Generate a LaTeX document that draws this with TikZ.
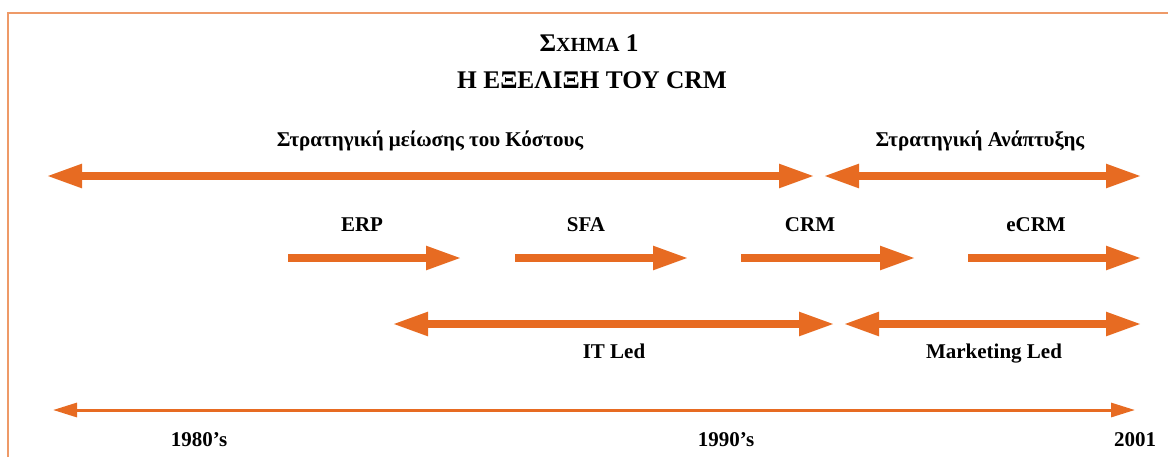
\documentclass[tikz,border=0pt]{standalone}
\usepackage{fontspec}
\setmainfont{Liberation Serif}
\usetikzlibrary{arrows.meta}
\definecolor{crmorange}{HTML}{E76B22}
\definecolor{framepeach}{HTML}{EE9A68}

\begin{document}
\begin{tikzpicture}[
  x=0.5pt,y=-0.5pt,
  font=\fontsize{10.5}{12}\selectfont\bfseries,
  txt/.style={inner sep=0pt,anchor=base},
  heading/.style={txt,font=\fontsize{12.7}{14}\selectfont\bfseries},
  fat/.style={line width=4pt,draw=crmorange,-{Triangle[length=18pt,width=11pt]}},
  fatboth/.style={fat,{Triangle[length=18pt,width=11pt]}-{Triangle[length=18pt,width=11pt]}},
  timeline/.style={line width=1.5pt,draw=crmorange,{Triangle[length=12pt,width=7pt]}-{Triangle[length=12pt,width=7pt]}}
]
\useasboundingbox (0,0) rectangle (1168,457);
\draw[framepeach,line width=0.8pt] (8,457) -- (8,13) -- (1168,13);

% title
\node[heading] (fig)   at (589,51) {Σ{\fontsize{10}{12}\selectfont ΧΗΜΑ} 1};
\node[heading] (title) at (592,88) {Η ΕΞΕΛΙΞΗ ΤΟΥ CRM};

% strategies
\node[txt] (cost)   at (430,146) {Στρατηγική μείωσης του Κόστους};
\node[txt] (growth) at (980,146) {Στρατηγική Ανάπτυξης};
\coordinate (cost-l) at (46,176);    \coordinate (cost-r) at (815,176);
\coordinate (growth-l) at (823,176); \coordinate (growth-r) at (1142,176);
\draw[fatboth] (cost-l) -- (cost-r);
\draw[fatboth] (growth-l) -- (growth-r);

% systems
\node[txt] (erp)  at (362,231)  {ERP};
\node[txt] (sfa)  at (586,231)  {SFA};
\node[txt] (crm)  at (810,231)  {CRM};
\node[txt] (ecrm) at (1036,231) {eCRM};
\coordinate (erp-l) at (288,258);  \coordinate (erp-r) at (462,258);
\coordinate (sfa-l) at (515,258);  \coordinate (sfa-r) at (689,258);
\coordinate (crm-l) at (741,258);  \coordinate (crm-r) at (916,258);
\coordinate (ecrm-l) at (968,258); \coordinate (ecrm-r) at (1142,258);
\draw[fat] (erp-l) -- (erp-r);
\draw[fat] (sfa-l) -- (sfa-r);
\draw[fat] (crm-l) -- (crm-r);
\draw[fat] (ecrm-l) -- (ecrm-r);

% drivers
\coordinate (it-l) at (392,324);  \coordinate (it-r) at (835,324);
\coordinate (mkt-l) at (843,324); \coordinate (mkt-r) at (1142,324);
\draw[fatboth] (it-l) -- (it-r);
\draw[fatboth] (mkt-l) -- (mkt-r);
\node[txt] (itled)  at (614,358) {IT Led};
\node[txt] (mktled) at (994,358) {Marketing Led};

% time axis
\coordinate (time-l) at (53,410); \coordinate (time-r) at (1135,410);
\draw[timeline] (time-l) -- (time-r);
\node[txt] (y80) at (199,446)  {1980’s};
\node[txt] (y90) at (726,446)  {1990’s};
\node[txt] (y01) at (1135,446) {2001};
\end{tikzpicture}
\end{document}
